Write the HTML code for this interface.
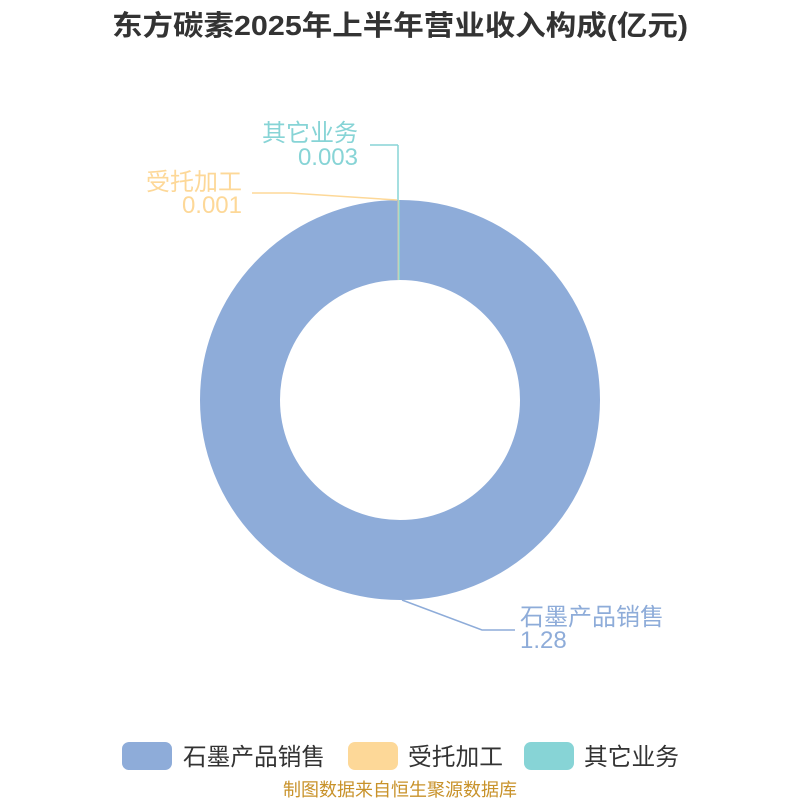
<!DOCTYPE html>
<html><head><meta charset="utf-8"><style>
body{margin:0;background:#fff;}
svg text{font-family:"Liberation Sans","Noto Sans CJK SC",sans-serif;}
</style></head><body>
<svg width="800" height="800" xmlns="http://www.w3.org/2000/svg">
<rect width="800" height="800" fill="#fff"/>
<text x="112" y="35" font-size="28" font-weight="bold" fill="#333" textLength="576" lengthAdjust="spacingAndGlyphs">东方碳素2025年上半年营业收入构成(亿元)</text>
<circle cx="400" cy="400" r="160" fill="none" stroke="#8eacd9" stroke-width="80"/>
<line x1="398.3" y1="200" x2="398.3" y2="280" stroke="#fdd898" stroke-width="1.2"/>
<line x1="399.2" y1="200" x2="399.2" y2="280" stroke="#87d4d6" stroke-width="1.5"/>
<polyline points="398,145 370,145" fill="none" stroke="#87d4d6" stroke-width="1.5"/>
<line x1="398" y1="145" x2="398" y2="200" stroke="#87d4d6" stroke-width="1.5"/>
<polyline points="252,193 290,193 397,200" fill="none" stroke="#fdd898" stroke-width="1.5"/>
<polyline points="402,600 482,630 515,630" fill="none" stroke="#8eacd9" stroke-width="1.5"/>
<text x="358" y="141" text-anchor="end" font-size="24" fill="#87d4d6">其它业务</text>
<text x="358" y="165" text-anchor="end" font-size="24" fill="#87d4d6">0.003</text>
<text x="242" y="190" text-anchor="end" font-size="24" fill="#fdd898">受托加工</text>
<text x="242" y="213" text-anchor="end" font-size="24" fill="#fdd898">0.001</text>
<text x="520" y="625" font-size="24" fill="#8eacd9">石墨产品销售</text>
<text x="520" y="648" font-size="24" fill="#8eacd9">1.28</text>
<rect x="122" y="742" width="50" height="28" rx="7" fill="#8eacd9"/>
<text x="183" y="765" font-size="24" fill="#333" textLength="142" lengthAdjust="spacingAndGlyphs">石墨产品销售</text>
<rect x="348" y="742" width="50" height="28" rx="7" fill="#fdd898"/>
<text x="408" y="765" font-size="24" fill="#333" textLength="95" lengthAdjust="spacingAndGlyphs">受托加工</text>
<rect x="524" y="742" width="50" height="28" rx="7" fill="#87d4d6"/>
<text x="584" y="765" font-size="24" fill="#333" textLength="95" lengthAdjust="spacingAndGlyphs">其它业务</text>
<text x="400" y="796" text-anchor="middle" font-size="18" fill="#c8922a">制图数据来自恒生聚源数据库</text>
</svg>
</body></html>
